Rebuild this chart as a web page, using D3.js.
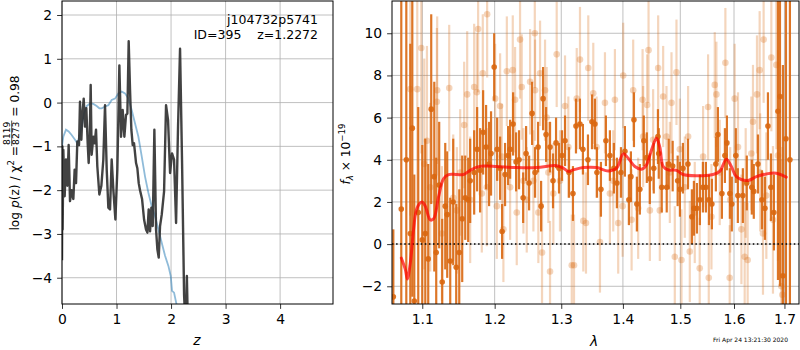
<!DOCTYPE html>
<html>
<head>
<meta charset="utf-8">
<script src="https://cdn.jsdelivr.net/npm/d3@7"></script>
<style>
  body { margin: 0; background: #fff; }
  svg { font-family: "DejaVu Sans", sans-serif; }
</style>
</head>
<body>
<div id="chart"></div>
<script>
// p(z) curve (log) and chi2 curve, left panel
const pzZ = [0, 0.008, 0.012, 0.024, 0.049, 0.073, 0.098, 0.122, 0.147, 0.177, 0.208, 0.232, 0.257, 0.281, 0.312, 0.330,
  0.355, 0.373, 0.398, 0.422, 0.446, 0.471, 0.489, 0.508, 0.526, 0.544, 0.575, 0.599, 0.624, 0.648, 0.685, 0.722,
  0.758, 0.789, 0.820, 0.850, 0.881, 0.911, 0.942, 0.979, 1.015, 1.052, 1.083, 1.113, 1.144, 1.174, 1.199, 1.223,
  1.248, 1.272, 1.297, 1.321, 1.358, 1.382, 1.407, 1.431, 1.468, 1.505, 1.541, 1.566, 1.590, 1.615, 1.639, 1.664,
  1.694, 1.725, 1.749, 1.774, 1.798, 1.829, 1.872, 1.908, 1.945, 1.982, 2.018, 2.055, 2.092, 2.128, 2.165, 2.202,
  2.239, 2.27, 2.29, 2.31, 2.4];
const pzLog = [-3.6, -1.0, -2.9, -1.08, -2.14, -1.3, -1.9, -0.97, -2.25, -2.0, -2.2, -1.53, -1.84, -0.89, -0.97, 0.02,
  -0.85, -0.3, 0.09, -0.55, -0.13, -0.93, -1.38, -0.85, 0.4, -1.19, -0.78, -0.93, -0.62, -1.46, -2.1, -1.9,
  -1.3, -0.06, -1.53, -2.4, -2.44, -1.3, -2.0, -2.67, -1.53, 0.85, -0.78, -0.17, -0.78, -0.28, -0.25, 1.4,
  0.28, -0.62, -0.97, -0.93, -1.38, -1.5, -1.84, -2.0, -2.2, -2.67, -2.9, -2.97, -2.44, -2.94, -2.4, -2.82,
  -0.62, -2.9, -3.35, -3.54, -2.82, -2.56, -2.03, -0.06, -0.4, -1.61, -1.16, -1.3, -2.75, -0.55, 1.23, -1.38,
  -4.4, -5.2, -3.96, -5.2, -7];

const chiZ = [0, 0.024, 0.073, 0.122, 0.177, 0.239, 0.281, 0.318, 0.361, 0.404, 0.453, 0.514, 0.575, 0.636, 0.685,
  0.728, 0.789, 0.850, 0.911, 0.972, 1.034, 1.095, 1.156, 1.217, 1.278, 1.339, 1.401, 1.462, 1.523, 1.584, 1.645,
  1.706, 1.768, 1.829, 1.890, 1.951, 1.994, 2.018, 2.055, 2.092, 2.116, 2.2];
const chiLog = [-1.0, -0.78, -0.62, -0.66, -0.74, -0.85, -0.93, -0.78, -0.55, -0.25, -0.08, -0.02, -0.03, -0.08, -0.13,
  -0.13, -0.09, -0.06, 0.06, 0.09, 0.21, 0.25, 0.21, 0.09, -0.17, -0.47, -0.78, -1.23, -1.69, -2.06, -2.37,
  -2.59, -2.9, -3.2, -3.5, -3.73, -3.96, -4.3, -4.34, -4.56, -4.7, -5.3];

// spectrum, right panel: two grism sets
const darkWave = [1.0624, 1.0726, 1.0791, 1.0843, 1.0869, 1.0895, 1.0947, 1.1000, 1.1040, 1.1079, 1.1119, 1.1160,
  1.1186, 1.1226, 1.1267, 1.1308, 1.1335, 1.1376, 1.1417, 1.1458, 1.1500, 1.1541, 1.1583, 1.1624, 1.1652, 1.1708,
  1.1750, 1.1792, 1.1835, 1.1877, 1.1920, 1.1948, 1.1993, 1.2036, 1.2079, 1.2108, 1.2151, 1.2195, 1.2225, 1.2269,
  1.2313, 1.2357, 1.2418, 1.2462, 1.2507, 1.2552, 1.2597, 1.2643, 1.2689, 1.2719, 1.2765, 1.2826, 1.2872, 1.2919,
  1.2965, 1.3012, 1.3059, 1.3122, 1.3184, 1.3232, 1.3295, 1.3343, 1.3424, 1.3489, 1.3537, 1.3570, 1.3635, 1.3717,
  1.3783, 1.3849, 1.3899, 1.3967, 1.4034, 1.4101, 1.4135, 1.4187, 1.4237, 1.4288, 1.4356, 1.4408, 1.4460, 1.4529,
  1.4602, 1.4616, 1.4669, 1.4757, 1.4792, 1.4863, 1.4952, 1.4993, 1.5047, 1.5138, 1.5210, 1.5247, 1.5302, 1.5357,
  1.5413, 1.5468, 1.5524, 1.5580, 1.5655, 1.5693, 1.5769, 1.5826, 1.5864, 1.5920, 1.5958, 1.6035, 1.6074, 1.6171,
  1.6248, 1.6346, 1.6385, 1.6467, 1.6546, 1.6606, 1.6666, 1.6726, 1.6786, 1.6868, 1.6909, 1.6969, 1.7031, 1.7112];
const darkFlux = [-2.5, 1.66, 4.0, 0.5, 5.5, -2.7, 1.5, 0.2, 0.5, -0.7, 6.4, 3.2,
  -0.4, 2.8, -1.8, 1.8, 1.4, -0.8, 2.0, -1.1, -0.4, 1.2, 2.2, 2.1, 3.0, 3.4,
  4.5, 3.5, 5.3, 4.6, 3.8, 4.3, 8.4, 4.5, 3.6, 0.6, 3.3, 4.2, 4.5, 5.7,
  3.9, 4.0, 2.2, 4.3, 2.9, 6.2, 3.4, 4.6, 1.8, 6.9, 5.2, 4.6, 3.0, 4.8,
  3.6, 4.2, 4.9, 3.4, 2.4, 5.6, 5.7, 4.5, 4.0, 5.8, 5.7, 3.4, 2.6, 4.9,
  4.2, 3.6, 2.9, 3.4, 4.4, 2.1, 3.2, 5.9, 1.9, 2.6, 4.9, 4.1, 3.1, 3.6,
  5.1, 4.3, 2.7, 2.7, 3.8, 3.7, 3.0, 2.6, 3.6, 3.8, 1.3, 1.7, 1.7, 2.1,
  2.7, 2.7, 2.1, 1.9, 3.8, 5.2, 2.4, 4.2, 4.8, 2.4, 1.9, 4.2, 2.3, 2.3,
  2.9, 2.7, 2.5, 3.8, 2.1, 1.7, 5.6, 2.7, 1.5, 6.3, 7.0, -1.5, 5.0, 4.0];
const darkErr = [3.2, 10, 10, 9, 8, 6, 5, 4.5, 4.5, 4.5, 4.5, 4.5,
  4.5, 3, 3, 3, 3, 3, 3, 3, 3, 3, 2, 2, 2, 2,
  2, 2, 2, 2, 2, 2, 1.6, 1.5, 1.5, 1.3, 1.5, 1.4, 1.4, 1.5,
  1.4, 1.4, 1.2, 1.3, 1.3, 1.5, 1.2, 1.2, 1.2, 1.5, 1.3, 1.2, 1.3, 1.2,
  1.2, 1.2, 1.2, 1.2, 1.3, 1.3, 1.2, 1.2, 1.2, 1.3, 1.2, 1.2, 1.3, 1.2,
  1.2, 1.2, 1.2, 1.2, 1.2, 1.2, 1.2, 1.3, 1.3, 1.2, 1.2, 1.2, 1.2, 1.2,
  1.3, 1.2, 1.2, 1.2, 1.2, 1.2, 1.2, 1.3, 1.2, 1.2, 1.3, 1.3, 1.2, 1.2,
  1.2, 1.2, 1.2, 1.2, 1.3, 1.3, 1.2, 1.3, 1.3, 1.2, 1.3, 1.3, 1.3, 1.3,
  1.3, 1.3, 1.3, 1.4, 1.4, 1.5, 1.6, 1.6, 1.8, 8, 9, 10, 10, 10];

const lightWave = [1.0843, 1.0934, 1.0987, 1.1026, 1.1062, 1.1106, 1.1195, 1.1199, 1.1263, 1.1362, 1.1417, 1.1467,
  1.1513, 1.1568, 1.1610, 1.1652, 1.1708, 1.1746, 1.1764, 1.1816, 1.1830, 1.1887, 1.1892, 1.2007, 1.2031, 1.2079,
  1.2104, 1.2127, 1.2177, 1.2225, 1.2264, 1.2298, 1.2323, 1.2372, 1.2397, 1.2422, 1.2472, 1.2522, 1.2572, 1.2593,
  1.2597, 1.2647, 1.2673, 1.2703, 1.2749, 1.2775, 1.2800, 1.2826, 1.2877, 1.2929, 1.2980, 1.3059, 1.3111, 1.3165,
  1.3201, 1.3244, 1.3296, 1.3349, 1.3392, 1.3429, 1.3510, 1.3564, 1.3619, 1.3701, 1.3783, 1.3838, 1.3866, 1.3921,
  1.3995, 1.4005, 1.4147, 1.4174, 1.4259, 1.4335, 1.4345, 1.4414, 1.4438, 1.4461, 1.4518, 1.4606, 1.4635, 1.4694,
  1.4753, 1.4812, 1.4842, 1.4901, 1.4931, 1.4991, 1.5021, 1.5081, 1.5141, 1.5172, 1.5263, 1.5354, 1.5416, 1.5509,
  1.5522, 1.5572, 1.5634, 1.5665, 1.5728, 1.5835, 1.5917, 1.5927, 1.6013, 1.6077, 1.6143, 1.6207, 1.6226, 1.6265,
  1.6337, 1.6369, 1.6448, 1.6501, 1.6511, 1.6567, 1.6580, 1.6634, 1.6734, 1.6767, 1.6835, 1.6868, 1.6936, 1.6957];
const lightFlux = [7.35, 7.35, 9.3, 3.8, 4.9, 2.7, 6.75, 7.3, 0.5, 7.4, 2.2, 1.6,
  3.4, 5.65, 7.1, 2.1, 7.45, 7.2, 10.2, 2.4, 8.1, 2.7, 10.9, 6.9, 1.8, 6.55,
  4.15, 0.7, 8.2, 2.7, 8.25, 6.85, 1.5, 9.7, 7.45, 3.0, 2.1, 7.7, 3.0, 10.0,
  7.3, 1.5, 8.1, -0.4, 7.3, 6.0, 3.4, -1.3, 2.4, 9.0, 3.0, 6.55, 4.6, -1.0,
  -1.0, 6.9, 8.75, 1.1, 1.0, 8.35, 7.15, 4.6, 0.1, 6.7, 2.4, 3.0, 6.85, 1.0,
  1.8, 8.0, 1.15, 7.3, 1.7, 6.85, 5.1, 6.6, 9.2, 1.6, 4.95, 8.35, 1.6, 7.0,
  5.1, 3.4, 6.7, -0.6, 8.15, 4.5, -0.75, 2.7, 5.1, -0.35, 1.5, -1.15, 4.15, 6.5,
  -1.6, 1.3, 7.55, 7.1, 3.4, 8.6, -1.6, 2.1, 6.9, 4.6, 0.7, -0.6, 2.9, -0.75,
  4.3, 5.8, 7.1, 8.25, 3.4, 0.5, 9.7, 2.3, 8.85, 1.15, 8.5, 4.2, -2.0, -2.4];
const lightErr = [6, 6, 5, 5, 4.5, 4, 3.5, 3.5, 3.2, 3, 3, 3,
  3, 3, 3, 3, 3, 2.8, 3, 2.8, 2.8, 2.8, 3, 2.6, 2.5, 2.5,
  2.5, 2.5, 2.6, 2.5, 2.6, 2.5, 2.5, 2.8, 2.5, 2.5, 2.5, 2.5, 2.4, 2.6,
  2.4, 2.4, 2.5, 2.4, 2.4, 2.4, 2.4, 2.4, 2.4, 2.5, 2.4, 2.4, 2.4, 2.4,
  2.4, 2.4, 2.5, 2.4, 2.4, 2.5, 2.4, 2.4, 2.4, 2.4, 2.4, 2.4, 2.4, 2.4,
  2.4, 2.5, 2.4, 2.4, 2.4, 2.4, 2.4, 2.4, 2.5, 2.4, 2.4, 2.5, 2.4, 2.4,
  2.4, 2.4, 2.4, 2.4, 2.5, 2.4, 2.4, 2.4, 2.4, 2.4, 2.4, 2.4, 2.4, 2.5,
  2.5, 2.5, 2.5, 2.5, 2.5, 2.6, 2.5, 2.5, 2.6, 2.6, 2.6, 2.6, 2.6, 2.7,
  2.7, 2.7, 2.8, 2.8, 2.8, 2.9, 3, 3, 3.5, 3.5, 4, 5, 6, 7];

// best-fit model
const modelWave = [1.0726, 1.0778, 1.0804, 1.0843, 1.0886, 1.0930, 1.0996, 1.1040, 1.1106, 1.1151, 1.1218, 1.1285,
  1.1353, 1.1467, 1.1559, 1.1652, 1.1746, 1.1839, 1.2031, 1.2323, 1.2623, 1.2929, 1.3032, 1.3111, 1.3190, 1.3349,
  1.3564, 1.3755, 1.3894, 1.4005, 1.4090, 1.4203, 1.4317, 1.4403, 1.4490, 1.4577, 1.4635, 1.4694, 1.4782, 1.4931,
  1.5050, 1.5294, 1.5602, 1.5728, 1.5854, 1.5949, 1.6046, 1.6271, 1.6436, 1.6636, 1.6835, 1.7037];
const modelFlux = [-0.66, -1.2, -1.65, -0.9, 0.7, 1.7, 2.0, 1.8, 1.15, 1.2, 2.25, 3.1,
  3.3, 3.3, 3.3, 3.5, 3.65, 3.7, 3.68, 3.63, 3.63, 3.72, 3.6, 3.45, 3.52, 3.63,
  3.63, 3.47, 3.6, 4.28, 4.07, 3.68, 3.55, 3.76, 4.47, 5.02, 4.6, 3.68, 3.52, 3.5,
  3.3, 3.24, 3.3, 3.45, 4.03, 3.68, 3.2, 3.02, 3.2, 3.33, 3.36, 3.18];

const zTicks = [0, 1, 2, 3, 4];
const pzTicks = [-4, -3, -2, -1, 0, 1, 2];
const waveTicks = [1.1, 1.2, 1.3, 1.4, 1.5, 1.6, 1.7];
const fluxTicks = [-2, 0, 2, 4, 6, 8, 10];

const W = 800, H = 350;
const fs = 13.9;
const lfs = 12.2;   // y label font
const orange = '#d9670f';

let svg = d3.select('#chart').append('svg')
    .attr('width', W)
    .attr('height', H)
    .attr('font-size', fs)

// ---------- left panel ----------
let L = {x0: 62, x1: 333, y0: 1, y1: 304};
let xz = d3.scaleLinear().domain([0, 4.97]).range([L.x0, L.x1]);
let yp = d3.scaleLinear().domain([-4.6, 2.32]).range([L.y1, L.y0]);

// ---------- right panel ----------
let R = {x0: 392, x1: 799, y0: 1, y1: 304};
let xw = d3.scaleLog().domain([1.0607, 1.730]).range([R.x0, R.x1]);
let yf = d3.scaleLinear().domain([-2.84, 11.53]).range([R.y1, R.y0]);

let defs = svg.append('defs');
defs.append('clipPath').attr('id', 'clipL').append('rect')
    .attr('x', L.x0).attr('y', L.y0).attr('width', L.x1 - L.x0).attr('height', L.y1 - L.y0);
defs.append('clipPath').attr('id', 'clipR').append('rect')
    .attr('x', R.x0).attr('y', R.y0).attr('width', R.x1 - R.x0).attr('height', R.y1 - R.y0);

function grid(g, xs, ys, xt, yt, P) {
    g.selectAll('.gx').data(xt).enter().append('line')
        .attr('x1', d => xs(d)).attr('x2', d => xs(d))
        .attr('y1', P.y0).attr('y2', P.y1)
        .attr('stroke', '#b0b0b0').attr('stroke-width', 0.8);
    g.selectAll('.gy').data(yt).enter().append('line')
        .attr('y1', d => ys(d)).attr('y2', d => ys(d))
        .attr('x1', P.x0).attr('x2', P.x1)
        .attr('stroke', '#b0b0b0').attr('stroke-width', 0.8);
}

function axes(xs, ys, xt, yt, P, xfmt, yfmt) {
    let ax = svg.append('g').attr('transform', `translate(0,${P.y1})`)
        .call(d3.axisBottom(xs).tickValues(xt).tickFormat(xfmt).tickSize(4.9).tickPadding(4.9));
    let ay = svg.append('g').attr('transform', `translate(${P.x0},0)`)
        .call(d3.axisLeft(ys).tickValues(yt).tickFormat(yfmt).tickSize(4.9).tickPadding(4.9));
    [ax, ay].forEach(a => {
        a.select('.domain').remove();
        a.selectAll('text').attr('font-size', fs).attr('fill', '#000')
            .attr('font-family', '"DejaVu Sans", sans-serif');
        a.selectAll('line').attr('stroke', '#000').attr('stroke-width', 0.8);
    });
    svg.append('rect').attr('x', P.x0).attr('y', P.y0)
        .attr('width', P.x1 - P.x0).attr('height', P.y1 - P.y0)
        .attr('fill', 'none').attr('stroke', '#000').attr('stroke-width', 1);
}

// left panel content
grid(svg.append('g'), xz, yp, zTicks, pzTicks, L);
let gl = svg.append('g').attr('clip-path', 'url(#clipL)');

gl.append('path')
    .datum(chiZ.map((z, i) => [z, chiLog[i]]))
    .attr('d', d3.line().x(d => xz(d[0])).y(d => yp(d[1])))
    .attr('fill', 'none').attr('stroke', '#1f77b4').attr('stroke-opacity', 0.5).attr('stroke-width', 1.8);

gl.append('path')
    .datum(pzZ.map((z, i) => [z, pzLog[i]]))
    .attr('d', d3.line().x(d => xz(d[0])).y(d => yp(d[1])))
    .attr('fill', 'none').attr('stroke', '#2e2e2e').attr('stroke-opacity', 0.9)
    .attr('stroke-width', 2.4).attr('stroke-linejoin', 'round');

axes(xz, yp, zTicks, pzTicks, L, d3.format('d'), d3.format('d'));

svg.append('text').attr('x', 318).attr('y', 24).attr('text-anchor', 'end')
    .attr('font-size', 12.5).text('j104732p5741');
svg.append('text').attr('x', 318).attr('y', 39).attr('text-anchor', 'end')
    .attr('font-size', 12.5).attr('xml:space', 'preserve').text('ID=395    z=1.2272');

// right panel content
grid(svg.append('g'), xw, yf, waveTicks, fluxTicks, R);
let gr = svg.append('g').attr('clip-path', 'url(#clipR)');

function errSeries(g, wave, flux, err, op, r) {
    let pts = wave.map((w, i) => ({w: w, f: flux[i], e: err[i]}));
    g.selectAll(null).data(pts).enter().append('line')
        .attr('x1', d => xw(d.w)).attr('x2', d => xw(d.w))
        .attr('y1', d => yf(d.f - d.e)).attr('y2', d => yf(d.f + d.e))
        .attr('stroke', orange).attr('stroke-opacity', op).attr('stroke-width', 2.2);
    g.selectAll(null).data(pts).enter().append('circle')
        .attr('cx', d => xw(d.w)).attr('cy', d => yf(d.f)).attr('r', r)
        .attr('fill', orange).attr('fill-opacity', op);
}

errSeries(gr.append('g'), lightWave, lightFlux, lightErr, 0.28, 3.3);
errSeries(gr.append('g'), darkWave, darkFlux, darkErr, 0.9, 2.8);

gr.append('line')
    .attr('x1', R.x0).attr('x2', R.x1).attr('y1', yf(0)).attr('y2', yf(0))
    .attr('stroke', '#000').attr('stroke-width', 1.5).attr('stroke-dasharray', '1.5,2.6');

gr.append('path')
    .datum(modelWave.map((w, i) => [w, modelFlux[i]]))
    .attr('d', d3.line().curve(d3.curveCatmullRom).x(d => xw(d[0])).y(d => yf(d[1])))
    .attr('fill', 'none').attr('stroke', '#ff0000').attr('stroke-opacity', 0.7)
    .attr('stroke-width', 3).attr('stroke-linecap', 'round');

axes(xw, yf, waveTicks, fluxTicks, R, d3.format('.1f'), d3.format('d'));

// axis labels
svg.append('text').attr('x', 197).attr('y', 345).attr('text-anchor', 'middle')
    .attr('font-style', 'italic').text('z');
svg.append('text').attr('x', 594).attr('y', 346).attr('text-anchor', 'middle')
    .attr('font-style', 'italic').text('λ');

// left y label: log p(z) / χ² = 8119/8273 = 0.98
let yl = svg.append('g').attr('font-size', lfs);
let t1 = yl.append('text').attr('x', 0).attr('y', 0);
t1.append('tspan').text('log ');
t1.append('tspan').attr('font-style', 'italic').text('p');
t1.append('tspan').text('(z) / χ');
t1.append('tspan').attr('font-size', 8.6).attr('dy', -5).text('2');
t1.append('tspan').attr('dy', 5).text(' = ');
let l1 = t1.node().getComputedTextLength();
let fnum = yl.append('text').attr('font-size', 9.2).attr('text-anchor', 'middle').attr('y', -8.3).text('8119');
let fden = yl.append('text').attr('font-size', 9.2).attr('text-anchor', 'middle').attr('y', 0.3).text('8273');
let fw = Math.max(fnum.node().getComputedTextLength(), fden.node().getComputedTextLength()) + 2;
fnum.attr('x', l1 + fw / 2);
fden.attr('x', l1 + fw / 2);
yl.append('line').attr('x1', l1).attr('x2', l1 + fw).attr('y1', -6.8).attr('y2', -6.8)
    .attr('stroke', '#000').attr('stroke-width', 0.7);
let t3 = yl.append('text').attr('x', l1 + fw).attr('y', 0).attr('xml:space', 'preserve').text(' = 0.98');
let ltot = l1 + fw + t3.node().getComputedTextLength();
yl.attr('transform', `translate(18.5,${153 + ltot / 2}) rotate(-90)`);

// right y label: f_λ × 10^-19
let yr = svg.append('g').attr('font-size', lfs);
let r1 = yr.append('text').attr('x', 0).attr('y', 0).attr('xml:space', 'preserve');
r1.append('tspan').attr('font-style', 'italic').text('f');
r1.append('tspan').attr('font-style', 'italic').attr('font-size', 8.6).attr('dy', 2.5).text('λ');
r1.append('tspan').attr('dy', -2.5).text(' × 10');
r1.append('tspan').attr('font-size', 8.6).attr('dy', -5).text('−19');
let rtot = r1.node().getComputedTextLength();
yr.attr('transform', `translate(350,${154 + rtot / 2}) rotate(-90)`);

// timestamp
svg.append('text').attr('x', 788).attr('y', 342).attr('text-anchor', 'end')
    .attr('font-size', 6).text('Fri Apr 24 13:21:30 2020');
</script>
</body>
</html>
